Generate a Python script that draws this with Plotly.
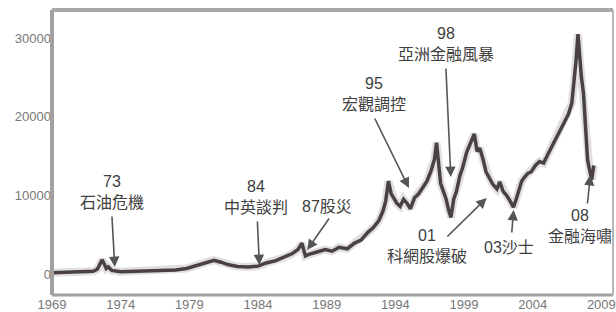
import plotly.graph_objects as go

# Hang Seng Index, decimal years
years = [1969.0, 1970.0, 1971.0, 1972.0, 1972.3, 1972.5, 1972.65, 1972.8, 1972.95, 1973.1, 1973.35,
         1974.0, 1975.0, 1976.0, 1977.0, 1978.0, 1978.8, 1979.5, 1980.3, 1980.8, 1981.3, 1981.8,
         1982.5, 1983.3, 1984.0, 1984.6, 1985.3, 1985.9, 1986.5, 1986.9, 1987.2, 1987.45, 1987.7,
         1988.3, 1988.9, 1989.4, 1989.9, 1990.5, 1991.0, 1991.5, 1992.0, 1992.4, 1992.8, 1993.1,
         1993.3, 1993.5, 1993.7, 1993.9, 1994.1, 1994.35, 1994.6, 1994.85, 1995.1, 1995.4, 1995.7,
         1996.0, 1996.3, 1996.6, 1996.85, 1997.0, 1997.15, 1997.3, 1997.5, 1997.7, 1997.9, 1998.05,
         1998.25, 1998.45, 1998.7, 1998.9, 1999.2, 1999.5, 1999.75, 1999.95, 2000.15, 2000.4,
         2000.6, 2000.85, 2001.1, 2001.4, 2001.6, 2001.85, 2002.1, 2002.35, 2002.6, 2002.8, 2003.0,
         2003.2, 2003.4, 2003.65, 2003.9, 2004.2, 2004.5, 2004.8, 2005.1, 2005.4, 2005.7, 2006.0,
         2006.3, 2006.6, 2006.85, 2007.0, 2007.15, 2007.3, 2007.42, 2007.55, 2007.7, 2007.8,
         2007.9, 2008.0, 2008.15, 2008.3, 2008.45]
index_values = [150, 200, 300, 350, 600, 1300, 1800, 1300, 700, 900, 450,
                300, 350, 450, 420, 500, 700, 1100, 1500, 1750, 1500, 1200,
                950, 900, 1000, 1400, 1700, 2100, 2600, 3100, 3900, 2300, 2500,
                2800, 3100, 2900, 3400, 3200, 3900, 4300, 5300, 5900, 6800, 8000,
                9300, 11800, 10200, 9600, 9000, 8600, 9500, 9000, 8300, 9700, 10200,
                11000, 11800, 13100, 14600, 16700, 14000, 11500, 10500, 9500, 8000, 7200,
                9500, 10500, 12500, 13500, 15500, 16900, 17800, 15600, 16000, 14500,
                13000, 12200, 11400, 10800, 11700, 10500, 10000, 9300, 8500, 9500, 10800,
                11800, 12300, 12800, 13000, 13800, 14300, 14100, 15200, 16200, 17200, 18300,
                19200, 20300, 21700, 24000, 27000, 30500, 27500, 25000, 23000, 20500,
                17000, 14500, 13200, 12000, 13800]

x_ticks = [1969, 1974, 1979, 1984, 1989, 1994, 1999, 2004, 2009]
y_ticks = [0, 10000, 20000, 30000]

# events: label, label position (year, value), arrow tail, arrow tip
event_labels = ["73<br>石油危機", "84<br>中英談判", "87股災", "95<br>宏觀調控",
                "98<br>亞洲金融風暴", "01<br>科網股爆破", "03沙士", "08<br>金融海嘯"]
label_x = [1973.36, 1983.88, 1989.04, 1992.45, 1997.68, 1996.3, 2002.25, 2007.48]
label_y = [10420, 9790, 8520, 22880, 29240, 3560, 3430, 6100]
tail_x = [1973.36, 1983.95, 1989.25, 1992.45, 1997.68, 1997.68, 2002.47, 2007.98]
tail_y = [7500, 6860, 7250, 19960, 26310, 4580, 5080, 8770]
tip_x = [1973.57, 1984.1, 1987.58, 1994.99, 1998.04, 2000.65, 2002.61, 2008.2]
tip_y = [890, 1140, 3050, 10930, 12330, 9660, 8140, 12580]

FONT = "Liberation Sans, Arial, Noto Sans CJK TC, sans-serif"

fig = go.Figure()
fig.add_trace(go.Scatter(x=years, y=index_values, mode="lines",
                         line=dict(color="rgba(120,110,110,0.22)", width=8),
                         hoverinfo="skip", showlegend=False))
fig.add_trace(go.Scatter(x=years, y=index_values, mode="lines",
                         line=dict(color="#4a4242", width=3.5), showlegend=False))

annotations = []
for lab, lx, ly in zip(event_labels, label_x, label_y):
    annotations.append(dict(x=lx, y=ly, xref="x", yref="y", text=lab, showarrow=False,
                            font=dict(family=FONT, size=16, color="#404040"),
                            align="center"))
for ax_, ay_, tx, ty in zip(tail_x, tail_y, tip_x, tip_y):
    annotations.append(dict(x=tx, y=ty, xref="x", yref="y", ax=ax_, ay=ay_,
                            axref="x", ayref="y", text="", showarrow=True,
                            arrowhead=2, arrowsize=1.3, arrowwidth=1.6,
                            arrowcolor="#555555"))

shapes = [
    dict(type="line", xref="paper", yref="paper", x0=0, x1=1, y0=1, y1=1,
         line=dict(color="#a8a8a8", width=4)),
    dict(type="line", xref="paper", yref="paper", x0=0, x1=1, y0=0, y1=0,
         line=dict(color="#a0a0a0", width=3)),
    dict(type="line", xref="paper", yref="paper", x0=1, x1=1, y0=0, y1=1,
         line=dict(color="#b8b8b8", width=2)),
    dict(type="line", xref="paper", yref="paper", x0=0, x1=0, y0=0, y1=1,
         line=dict(color="#a0a0a0", width=4)),
]

fig.update_layout(
    width=616, height=312,
    margin=dict(l=52, r=3, t=10, b=17),
    paper_bgcolor="white", plot_bgcolor="white",
    annotations=annotations, shapes=shapes,
    showlegend=False,
    xaxis=dict(range=[1969, 2009.85], tickvals=x_ticks, ticktext=[str(v) for v in x_ticks],
               showgrid=False, zeroline=False, showline=False, ticks="",
               ticklabeloverflow="allow",
               tickfont=dict(family=FONT, size=13, color="#777777"), automargin=False),
    yaxis=dict(range=[-2670, 33560], tickvals=y_ticks, ticktext=[str(v) for v in y_ticks],
               showgrid=False, zeroline=False, showline=False, ticks="",
               tickfont=dict(family=FONT, size=13, color="#777777"), automargin=False),
)

# remove the page's default body margin so the 616x312 figure fills the window exactly
fig.write_html("out.html", config={"displayModeBar": False},
               post_script="document.body.style.margin='0';document.body.style.overflow='hidden';")
